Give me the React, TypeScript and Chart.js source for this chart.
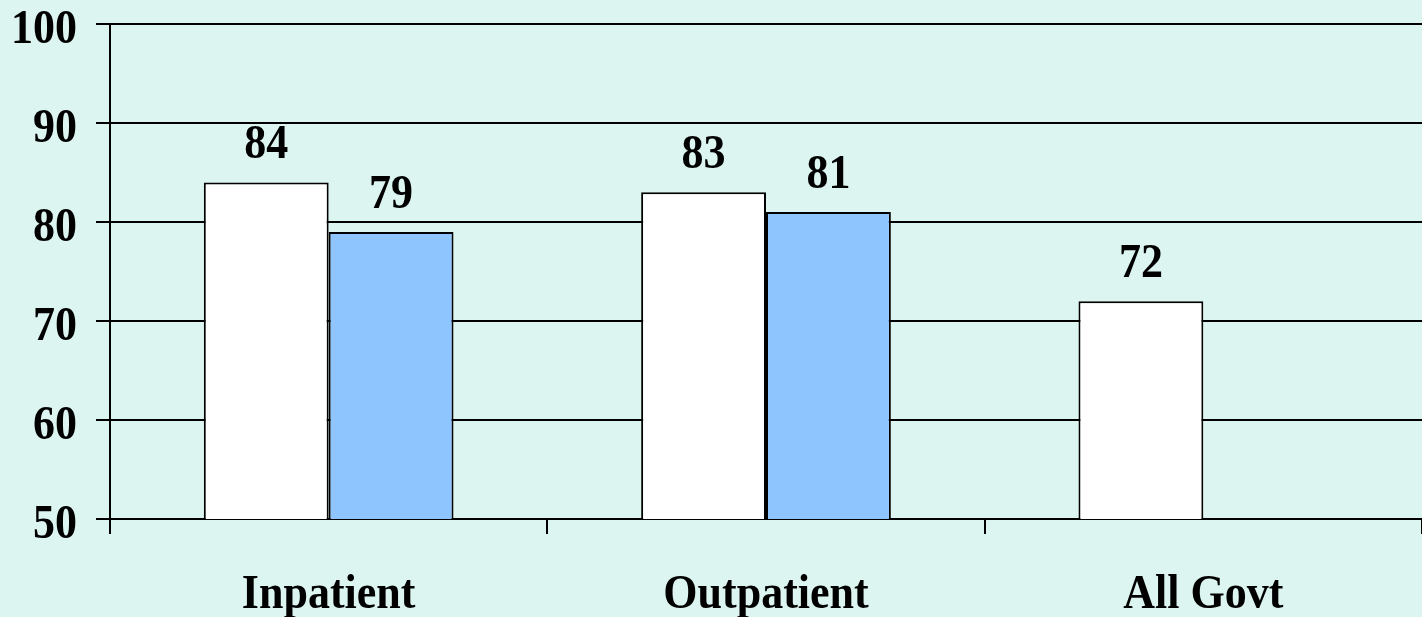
import React, { useEffect, useRef } from "react";
import { Chart, registerables } from "chart.js";

Chart.register(...registerables);

const categories = ["Inpatient", "Outpatient", "All Govt"];
const seriesA = [84, 83, 72];
const seriesB: (number | null)[] = [79, 81, null];
const yTicks = [50, 60, 70, 80, 90, 100];

const BG = "#DCF5F0";
const FONT = "'Liberation Serif', 'Times New Roman', serif";
const FONT_SIZE = 44;
const STRETCH = 1.1;

function drawText(ctx: CanvasRenderingContext2D, text: string, x: number, baseline: number, align: CanvasTextAlign) {
  ctx.save();
  ctx.translate(x, baseline);
  ctx.scale(1, STRETCH);
  ctx.textAlign = align;
  ctx.textBaseline = "alphabetic";
  ctx.fillText(text, 0, 0);
  ctx.restore();
}

const bgPlugin = {
  id: "bgfill",
  beforeDraw(chart: any) {
    const { ctx, width, height } = chart;
    ctx.save();
    ctx.fillStyle = BG;
    ctx.fillRect(0, 0, width, height);
    ctx.restore();
  },
};

const textPlugin = {
  id: "textPlugin",
  afterDraw(chart: any) {
    const { ctx } = chart;
    ctx.save();
    ctx.fillStyle = "#000";
    ctx.font = `bold ${FONT_SIZE}px ${FONT}`;
    // value labels
    chart.data.datasets.forEach((ds: any, i: number) => {
      const meta = chart.getDatasetMeta(i);
      meta.data.forEach((el: any, j: number) => {
        const v = ds.data[j];
        if (v === null || v === undefined) return;
        drawText(ctx, String(v), el.x, el.y - 24, "center");
      });
    });
    // y tick labels
    const ys = chart.scales.y;
    yTicks.forEach((v) => {
      const py = ys.getPixelForValue(v);
      drawText(ctx, String(v), ys.right - 33, py + 19, "right");
    });
    // x category labels
    const xs = chart.scales.x;
    categories.forEach((c, i) => {
      const px = xs.getPixelForValue(i);
      drawText(ctx, c, px, 608, "center");
    });
    ctx.restore();
  },
};

export default function App() {
  const ref = useRef<HTMLCanvasElement | null>(null);
  useEffect(() => {
    document.body.style.margin = "0";
    document.body.style.background = BG;
    const chart = new Chart(ref.current as HTMLCanvasElement, {
      type: "bar",
      data: {
        labels: categories,
        datasets: [
          {
            data: seriesA,
            backgroundColor: "#FFFFFF",
            borderColor: "#000",
            borderWidth: 2,
            categoryPercentage: 0.571,
            barPercentage: 1,
          },
          {
            data: seriesB,
            backgroundColor: "#8FC5FF",
            borderColor: "#000",
            borderWidth: 2,
            categoryPercentage: 0.571,
            barPercentage: 1,
          },
        ],
      },
      options: {
        animation: false,
        responsive: false,
        maintainAspectRatio: false,
        layout: { padding: { left: 0, right: 0, top: 24, bottom: 0 } },
        plugins: { legend: { display: false }, tooltip: { enabled: false } },
        scales: {
          x: {
            offset: true,
            afterFit: (axis: any) => {
              axis.height = 98;
            },
            grid: {
              offset: true,
              drawOnChartArea: false,
              drawTicks: true,
              tickLength: 15,
              color: "#000",
              lineWidth: 2,
            },
            border: { display: true, color: "#000", width: 2 },
            ticks: { display: false },
          },
          y: {
            min: 50,
            max: 100,
            afterBuildTicks: (axis: any) => {
              axis.ticks = yTicks.map((v) => ({ value: v }));
            },
            afterFit: (axis: any) => {
              axis.width = 110;
            },
            grid: {
              color: "#000",
              lineWidth: 2,
              tickLength: 14,
            },
            border: { display: true, color: "#000", width: 2 },
            ticks: { display: false },
          },
        },
      },
      plugins: [bgPlugin, textPlugin],
    });
    return () => chart.destroy();
  }, []);
  return (
    <div style={{ width: 1422, height: 617, background: BG }}>
      <canvas ref={ref} width={1422} height={617} style={{ display: "block" }} />
    </div>
  );
}
